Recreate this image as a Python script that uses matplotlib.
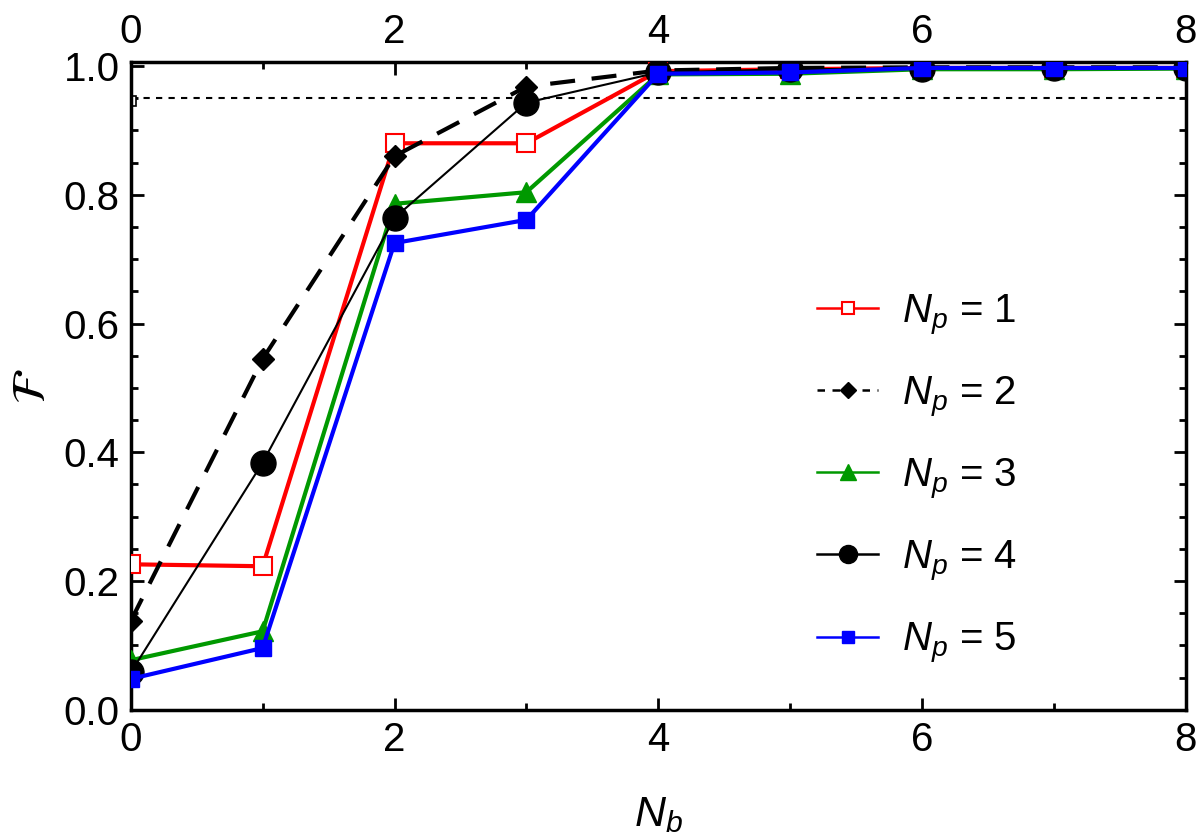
import numpy as np
import matplotlib
matplotlib.use("Agg")
import matplotlib.pyplot as plt
from matplotlib.ticker import MultipleLocator

plt.rcParams['font.family'] = ['Liberation Sans', 'DejaVu Sans']
plt.rcParams['mathtext.fontset'] = 'custom'
plt.rcParams['mathtext.rm'] = 'Liberation Sans'
plt.rcParams['mathtext.it'] = 'Liberation Sans:italic'

# Data
nb = [0, 1, 2, 3, 4, 5, 6, 7, 8]
fid_np1 = [0.226, 0.223, 0.880, 0.880, 0.992, 0.995, 0.997, 0.997, 0.997]
fid_np2 = [0.138, 0.545, 0.860, 0.968, 0.993, 0.997, 0.998, 0.998, 0.998]
fid_np3 = [0.077, 0.122, 0.786, 0.804, 0.987, 0.988, 0.995, 0.995, 0.996]
fid_np4 = [0.058, 0.384, 0.764, 0.943, 0.990, 0.995, 0.996, 0.997, 0.997]
fid_np5 = [0.048, 0.096, 0.725, 0.761, 0.988, 0.990, 0.997, 0.997, 0.997]
threshold = 0.95
ref_x = [0]
ref_y = [0.946]

fig = plt.figure(figsize=(12, 8.4), dpi=100)
ax = fig.add_axes([0.109, 0.155, 0.879, 0.771])

ax.plot(nb, [threshold] * len(nb), color='black', ls=(0, (3, 3)), lw=1.5, zorder=1)
ax.plot(ref_x, ref_y, ls='none', marker='s', ms=7, mfc='white', mec='black', mew=1.2, zorder=2)

ax.plot(nb, fid_np1, color='red', lw=3, marker='s', ms=13, mfc='white', mec='red',
        mew=1.5, label='$N_p$ = 1', zorder=3)
ax.plot(nb, fid_np2, color='black', lw=3, ls=(0, (6, 4)), marker='D', ms=11,
        label='$N_p$ = 2', zorder=4)
ax.plot(nb, fid_np3, color='#009900', lw=3, marker='^', ms=15, label='$N_p$ = 3', zorder=5)
ax.plot(nb, fid_np4, color='black', lw=1.5, marker='o', ms=18, label='$N_p$ = 4', zorder=6)
ax.plot(nb, fid_np5, color='blue', lw=3, marker='s', ms=12, label='$N_p$ = 5', zorder=7)

ax.set_xlim(0, 8)
ax.set_ylim(0, 1.006)
ax.xaxis.set_major_locator(MultipleLocator(2))
ax.xaxis.set_minor_locator(MultipleLocator(1))
ax.yaxis.set_major_locator(MultipleLocator(0.2))
ax.yaxis.set_minor_locator(MultipleLocator(0.05))
ax.yaxis.set_major_formatter(matplotlib.ticker.FormatStrFormatter('%.1f'))

ax.tick_params(which='both', direction='in', top=True, right=True,
               labeltop=True, width=2, labelsize=29)
ax.tick_params(which='major', length=9, pad=8)
ax.tick_params(which='minor', length=5)
for s in ax.spines.values():
    s.set_linewidth(2.5)

ax.set_xlabel('$N_b$', fontsize=31, labelpad=26)
ax.set_ylabel(r'$\mathcal{F}$', fontsize=34, math_fontfamily='stix', labelpad=6)

leg = ax.legend(loc='center left', bbox_to_anchor=(0.651, 0.357), frameon=False,
                fontsize=29, handlelength=1.5, handletextpad=0.6, labelspacing=0.92,
                borderpad=0, borderaxespad=0, numpoints=1)
ms_leg = [9, 8, 11, 13, 9]
for h, m in zip(leg.get_lines(), ms_leg):
    h.set_linewidth(1.8)
    h.set_markersize(m)
leg.get_lines()[1].set_linestyle((0, (3, 3)))

fig.savefig('out.png', dpi=100)
